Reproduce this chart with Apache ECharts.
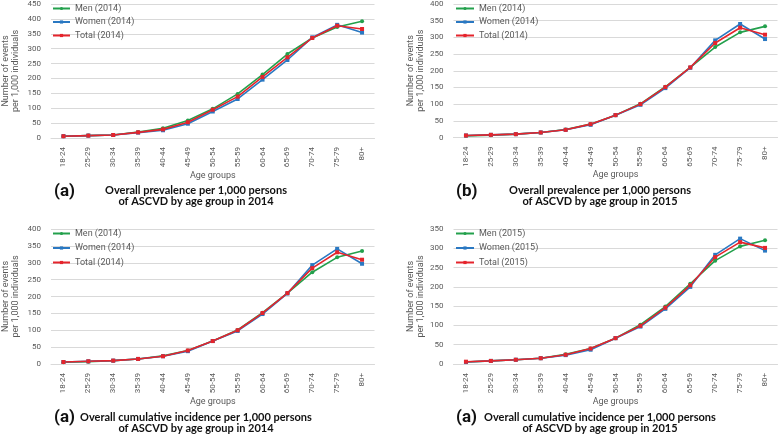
<!DOCTYPE html>
<html>
<head>
<meta charset="utf-8">
<script src="https://cdn.jsdelivr.net/npm/echarts@6/dist/echarts.min.js"></script>
<style>
  html, body { margin: 0; padding: 0; background: #fff; }
  #chart { width: 778px; height: 435px; }
</style>
</head>
<body>
<div id="chart"></div>
<script>
const ageGroups = ["18-24", "25-29", "30-34", "35-39", "40-44", "45-49", "50-54",
  "55-59", "60-64", "65-69", "70-74", "75-79", "80+"];

// (a) prevalence 2014
const prevMen2014 = [6, 8, 10, 20, 33, 59, 98, 148, 213, 282, 336, 373, 392];
const prevWomen2014 = [6, 8, 10, 18, 26, 48, 89, 131, 196, 262, 338, 380, 354];
const prevTotal2014 = [6, 8, 10, 19, 29, 53, 95, 139, 205, 271, 336, 377, 366];

// (b) prevalence 2015
const prevMen2015 = [5, 7, 10, 15, 24, 40, 67, 101, 152, 210, 271, 315, 333];
const prevWomen2015 = [6, 8, 10, 15, 23, 38, 67, 98, 148, 209, 291, 340, 295];
const prevTotal2015 = [6, 8, 10, 15, 23, 40, 67, 100, 151, 210, 283, 329, 308];

// (a) cumulative incidence 2014
const cumMen2014 = [5, 7, 10, 15, 24, 40, 68, 101, 152, 210, 272, 316, 335];
const cumWomen2014 = [6, 8, 10, 15, 23, 38, 68, 98, 148, 209, 293, 341, 297];
const cumTotal2014 = [6, 8, 10, 15, 23, 40, 68, 100, 151, 210, 284, 331, 309];

// (a) cumulative incidence 2015
const cumMen2015 = [5, 8, 11, 15, 25, 40, 67, 102, 149, 208, 268, 305, 321];
const cumWomen2015 = [5, 8, 11, 15, 23, 37, 67, 97, 143, 200, 283, 325, 294];
const cumTotal2015 = [6, 8, 11, 15, 24, 40, 67, 99, 146, 204, 277, 316, 301];

const yMaxes = [450, 400, 400, 350];
const seriesNames2014 = ["Men (2014)", "Women (2014)", "Total (2014)"];
const seriesNames2015 = ["Men (2015)", "Women (2015)", "Total (2015)"];
const letters = ["(a)", "(b)", "(a)", "(a)"];
const captions = [
  "Overall prevalence per 1,000 persons\nof ASCVD by age group in 2014",
  "Overall prevalence per 1,000 persons\nof ASCVD by age group in 2015",
  "Overall cumulative incidence per 1,000 persons\nof ASCVD by age group in 2014",
  "Overall cumulative incidence per 1,000 persons\nof ASCVD by age group in 2015"
];

const colors = { men: "#23a04c", women: "#2a78c2", total: "#e5242c" };
const font = "Roboto, 'Open Sans', sans-serif";
const captionFont = "Lato, Roboto, sans-serif";
const gray = "#595959";
const gridLine = "#d9d9d9";

const panels = [
  { data: [prevMen2014, prevWomen2014, prevTotal2014], names: seriesNames2014,
    grid: { left: 50.5, top: 3, width: 324, height: 135 }, legend: { left: 52, top: 4, gap: 4.5, w: 17 },
    letter: { left: 54, top: 183 }, caption: { x: 196, top: 185 } },
  { data: [prevMen2015, prevWomen2015, prevTotal2015], names: seriesNames2014,
    grid: { left: 453.5, top: 2.5, width: 324, height: 135 }, legend: { left: 455, top: 4, gap: 4.5, w: 18 },
    letter: { left: 456, top: 183 }, caption: { x: 600, top: 185 } },
  { data: [cumMen2014, cumWomen2014, cumTotal2014], names: seriesNames2014,
    grid: { left: 50.5, top: 229, width: 324, height: 135 }, legend: { left: 52, top: 229, gap: 5.5, w: 17 },
    letter: { left: 54, top: 409 }, caption: { x: 196, top: 412 } },
  { data: [cumMen2015, cumWomen2015, cumTotal2015], names: seriesNames2015,
    grid: { left: 453.5, top: 229, width: 324, height: 135 }, legend: { left: 455, top: 229, gap: 5.5, w: 18 },
    letter: { left: 456, top: 409 }, caption: { x: 600, top: 412 } }
];

const chart = echarts.init(document.getElementById("chart"));
const lineColors = [colors.men, colors.women, colors.total];
const symbols = ["circle", "rect", "rect"];

const option = {
  animation: false,
  textStyle: { fontFamily: font },
  grid: panels.map((p) => Object.assign({ containLabel: false }, p.grid)),
  xAxis: panels.map((p, i) => ({
    type: "category",
    gridIndex: i,
    data: ageGroups,
    name: "Age groups",
    nameLocation: "middle",
    nameGap: 32,
    nameTextStyle: { fontSize: 9, color: gray, fontFamily: font },
    axisLine: { lineStyle: { color: gridLine } },
    axisTick: { show: false },
    axisLabel: { rotate: 90, fontSize: 8, color: gray, margin: 9, interval: 0 }
  })),
  yAxis: panels.map((p, i) => ({
    type: "value",
    gridIndex: i,
    min: 0,
    max: yMaxes[i],
    interval: 50,
    name: "Number of events\nper 1,000 individuals",
    nameLocation: "middle",
    nameGap: i % 2 === 0 ? 30 : 28,
    nameTextStyle: { fontSize: 9, color: gray, lineHeight: 10, fontFamily: font },
    axisLine: { show: false },
    axisTick: { show: false },
    axisLabel: { fontSize: 8, color: gray, margin: 10 },
    splitLine: { lineStyle: { color: gridLine, width: 1 } }
  })),
  legend: panels.map((p) => ({
    left: p.legend.left,
    top: p.legend.top,
    orient: "vertical",
    padding: 0,
    itemGap: p.legend.gap,
    itemWidth: p.legend.w,
    itemHeight: 4,
    textStyle: { fontSize: 9, color: gray, fontFamily: font },
    data: p.names
  })),
  title: [],
  series: []
};

panels.forEach((p, i) => {
  option.title.push({
    text: letters[i],
    left: p.letter.left,
    top: p.letter.top,
    padding: 0,
    textStyle: { fontSize: 17, fontWeight: "bold", color: "#111", fontFamily: font }
  });
  option.title.push({
    text: captions[i],
    left: p.caption.x,
    top: p.caption.top,
    textAlign: "center",
    padding: 0,
    textStyle: { fontSize: 11, fontWeight: "bold", color: "#111", lineHeight: 11, fontFamily: captionFont }
  });
  p.data.forEach((values, k) => {
    option.series.push({
      type: "line",
      name: p.names[k],
      xAxisIndex: i,
      yAxisIndex: i,
      data: values,
      symbol: symbols[k],
      symbolSize: 4,
      lineStyle: { width: 1.6, color: lineColors[k] },
      itemStyle: { color: lineColors[k] }
    });
  });
});

chart.setOption(option);
</script>
</body>
</html>
